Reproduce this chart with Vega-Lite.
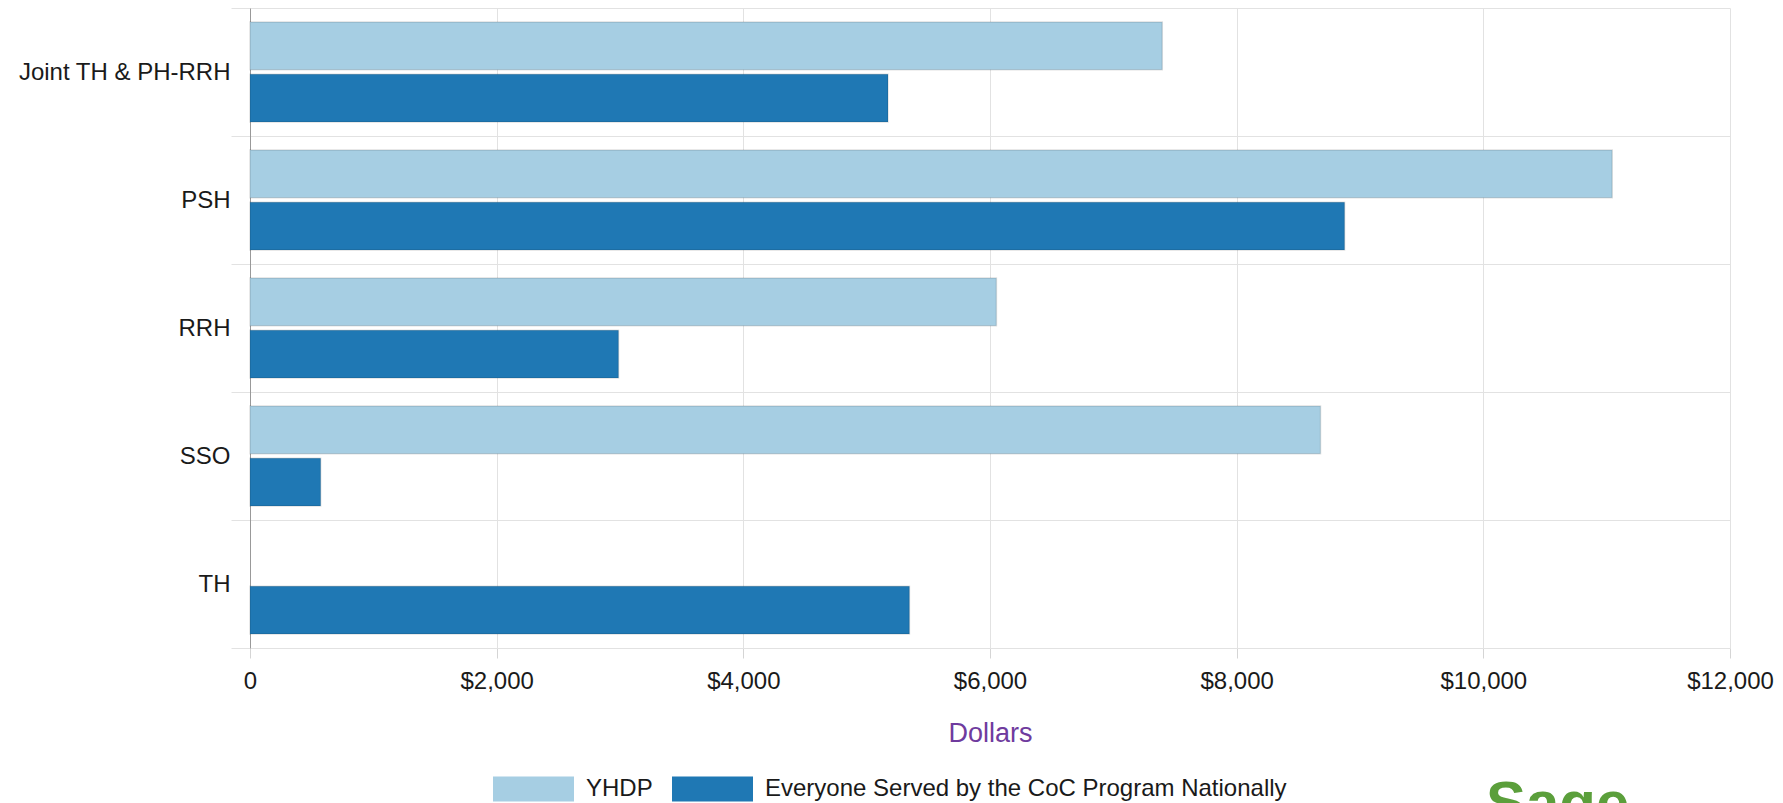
{
  "$schema": "https://vega.github.io/schema/vega-lite/v6.json",
  "width": 1480,
  "height": 640,
  "autosize": {"type": "none"},
  "padding": {"left": 250, "top": 8, "right": 53, "bottom": 155},
  "background": "white",
  "config": {"view": {"stroke": null}, "font": "Liberation Sans"},
  "title": {"text": "Sage", "orient": "bottom", "anchor": "end", "color": "#5b9f3b", "fontSize": 60, "fontWeight": "bold", "font": "Liberation Sans", "dx": -144, "offset": -26},
  "data": {
    "values": [
      {"category": "Joint TH & PH-RRH", "series": "YHDP", "value": 7397},
      {"category": "Joint TH & PH-RRH", "series": "Everyone Served by the CoC Program Nationally", "value": 5173},
      {"category": "PSH", "series": "YHDP", "value": 11045},
      {"category": "PSH", "series": "Everyone Served by the CoC Program Nationally", "value": 8875},
      {"category": "RRH", "series": "YHDP", "value": 6052},
      {"category": "RRH", "series": "Everyone Served by the CoC Program Nationally", "value": 2988},
      {"category": "SSO", "series": "YHDP", "value": 8680},
      {"category": "SSO", "series": "Everyone Served by the CoC Program Nationally", "value": 573},
      {"category": "TH", "series": "Everyone Served by the CoC Program Nationally", "value": 5347}
    ]
  },
  "mark": {"type": "bar", "stroke": "#000000", "strokeOpacity": 0.12, "strokeWidth": 1.5},
  "encoding": {
    "y": {
      "field": "category",
      "type": "nominal",
      "sort": ["Joint TH & PH-RRH", "PSH", "RRH", "SSO", "TH"],
      "scale": {"paddingInner": 0, "paddingOuter": 0},
      "axis": {
        "title": null,
        "tickBand": "extent",
        "grid": true,
        "gridColor": "#e2e2e2",
        "tickColor": "#e2e2e2",
        "tickSize": 19,
        "labelPadding": 1,
        "labelFontSize": 24,
        "labelColor": "#1a1a1a",
        "labelFont": "Liberation Sans",
        "domainColor": "#999999",
        "labelLimit": 0
      }
    },
    "yOffset": {
      "field": "series",
      "type": "nominal",
      "scale": {"domain": ["YHDP", "Everyone Served by the CoC Program Nationally"], "paddingInner": 0.085, "paddingOuter": 0.27}
    },
    "x": {
      "field": "value",
      "type": "quantitative",
      "scale": {"domain": [0, 12000], "nice": false},
      "axis": {
        "title": "Dollars",
        "titleColor": "#6f3b9e",
        "titleFontSize": 27,
        "titleFontWeight": "normal",
        "titleFont": "Liberation Sans",
        "titlePadding": 27,
        "values": [0, 2000, 4000, 6000, 8000, 10000, 12000],
        "labelExpr": "datum.value == 0 ? '0' : format(datum.value, '$,.0f')",
        "grid": true,
        "gridColor": "#e2e2e2",
        "tickColor": "#d5d5d5",
        "tickSize": 10,
        "labelPadding": 11,
        "labelFontSize": 24,
        "labelColor": "#1a1a1a",
        "labelFont": "Liberation Sans",
        "domainColor": "#e2e2e2",
        "labelFlush": false
      }
    },
    "color": {
      "field": "series",
      "type": "nominal",
      "scale": {"domain": ["YHDP", "Everyone Served by the CoC Program Nationally"], "range": ["#a6cee3", "#1f78b4"]},
      "legend": {
        "orient": "none",
        "direction": "horizontal",
        "legendX": 243,
        "legendY": 740,
        "title": null,
        "symbolType": "M-1,-0.31H1V0.31H-1Z",
        "symbolSize": 6561,
        "symbolStrokeWidth": 0,
        "symbolOpacity": 1,
        "labelFontSize": 24,
        "labelColor": "#1a1a1a",
        "labelFont": "Liberation Sans",
        "labelOffset": 12,
        "columnPadding": 19,
        "padding": 0,
        "labelLimit": 0
      }
    }
  }
}
